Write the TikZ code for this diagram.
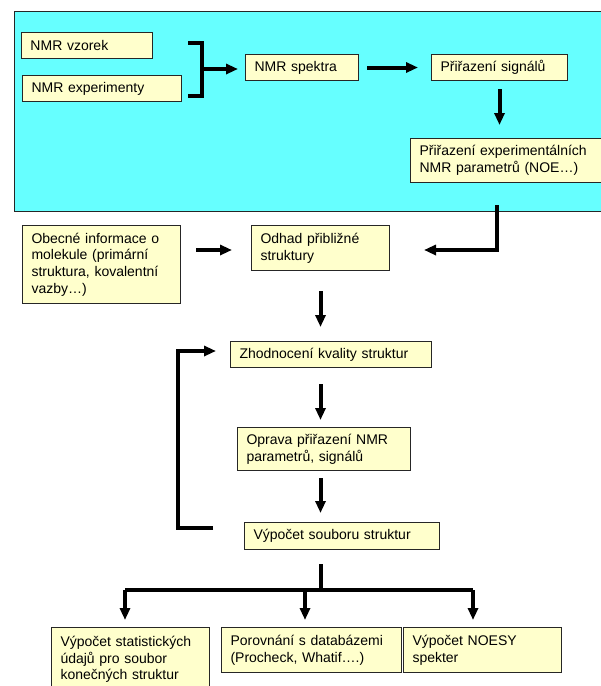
\documentclass[tikz,border=0pt]{standalone}
\usepackage{fontspec}
\setmainfont{Liberation Sans}
\usepackage{tikz}
\usetikzlibrary{arrows.meta}

\definecolor{panelcyan}{HTML}{66FFFF}
\definecolor{boxfill}{HTML}{FFFFCC}

\tikzset{
  box/.style={draw=black!85, line width=1pt, fill=boxfill, anchor=north west, align=left,
    inner xsep=9pt, inner ysep=0pt, font=\fontsize{14}{16.7}\selectfont},
  conn/.style={line width=4pt},
  arr/.style={conn, -{Triangle[length=12pt,width=10pt]}}
}

\begin{document}
\begin{tikzpicture}[x=1pt, y=-1pt]
  \useasboundingbox (0,0) rectangle (601,686);
  \clip (0,0) rectangle (601,686);
  \draw[black!85, line width=1pt, fill=panelcyan] (14,11) rectangle (620,211);

  \node[box, text width=113pt, minimum height=26pt] (vzorek) at (21,32) {NMR vzorek};
  \node[box, text width=141pt, minimum height=26pt] (experimenty) at (22,75) {NMR experimenty};
  \node[box, text width=95pt, minimum height=26pt] (spektra) at (245,54) {NMR spektra};
  \node[box, text width=118pt, minimum height=26pt] (signaly) at (431,54) {Přiřazení signálů};
  \node[box, text width=192pt, minimum height=44pt] (noe) at (410,138) {Přiřazení experimentálních\\NMR parametrů (NOE…)};
  \node[box, text width=140pt, minimum height=78pt] (obecne) at (22,225) {Obecné informace o\\molekule (primární\\struktura, kovalentní\\vazby…)};
  \node[box, text width=120pt, minimum height=45pt] (odhad) at (251,225) {Odhad přibližné\\struktury};
  \node[box, text width=183pt, minimum height=26pt] (zhod) at (230,341) {Zhodnocení kvality struktur};
  \node[box, text width=155pt, minimum height=43pt] (oprava) at (237,427) {Oprava přiřazení NMR\\parametrů, signálů};
  \node[box, text width=177pt, minimum height=27pt] (vypocet) at (244,522) {Výpočet souboru struktur};
  \node[box, text width=140pt, minimum height=64pt] (stat) at (51,627) {Výpočet statistických\\údajů pro soubor\\konečných struktur};
  \node[box, text width=162pt, minimum height=45pt] (porov) at (221,627) {Porovnání s databázemi\\(Procheck, Whatif….)};
  \node[box, text width=140pt, minimum height=45pt] (noesy) at (403,627) {Výpočet NOESY\\spekter};

  \coordinate (brtop) at (188,43);
  \coordinate (brbot) at (188,96);
  \coordinate (brk) at (202,69);
  \coordinate (rettop) at (497,205);
  \coordinate (retbend) at (497,250);
  \coordinate (loopbot) at (178,528);
  \coordinate (looptop) at (178,351);
  \coordinate (fan) at (321,590);
  \coordinate (fanl) at (125,590);
  \coordinate (fanr) at (473,590);

  \draw[conn] (brtop) -- (brtop -| brk) -- (brbot -| brk) -- (brbot);
  \draw[arr, shorten >=7pt] (brk) -- (brk -| spektra.west);
  \path[arr]
    (spektra.east) edge[shorten <=8pt, shorten >=13pt] (signaly.west |- spektra.east)
    (signaly.south) edge[shorten <=8pt, shorten >=13pt] (signaly.south |- noe.north)
    (obecne.east |- retbend) edge[shorten <=15pt, shorten >=19pt] (odhad.west |- retbend)
    (odhad.south) edge[shorten <=20pt, shorten >=14pt] (odhad.south |- zhod.north)
    (odhad.south |- zhod.south) edge[shorten <=16pt, shorten >=7pt] (odhad.south |- oprava.north)
    (odhad.south |- oprava.south) edge[shorten <=7pt, shorten >=9pt] (odhad.south |- vypocet.north)
  ;
  \draw[arr, shorten >=34pt] (rettop) -- (retbend) -- (retbend -| odhad.east);
  \draw[arr, shorten <=31pt, shorten >=14pt] (loopbot -| vypocet.west) -- (loopbot) -- (looptop) -- (looptop -| zhod.west);
  \draw[conn, shorten <=14pt] (fan |- vypocet.south) -- (fan);
  \draw[conn] (fanl) -- (fanr);
  \foreach \n/\x in {stat/125, porov/305, noesy/473}
    \draw[arr, shorten >=7pt] (\x,590) -- (\x,590 |- \n.north);
\end{tikzpicture}
\end{document}
